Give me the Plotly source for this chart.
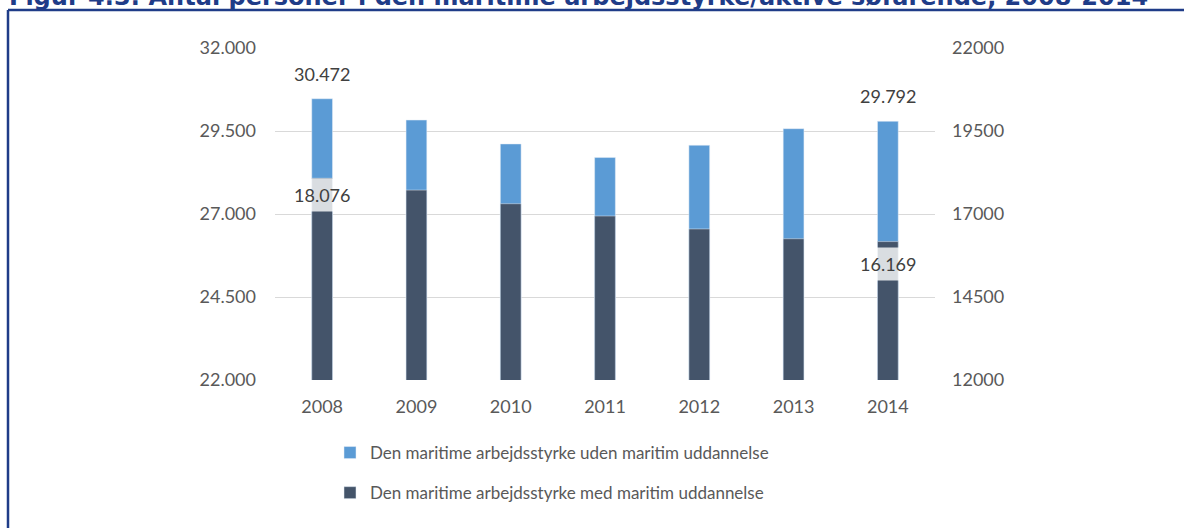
import plotly.graph_objects as go

years = ["2008", "2009", "2010", "2011", "2012", "2013", "2014"]
total_workforce = [30472, 29830, 29110, 28700, 29070, 29570, 29792]
with_maritime_edu = [18076, 17720, 17310, 16940, 16550, 16255, 16169]
left_ticks = [22000, 24500, 27000, 29500, 32000]
right_ticks = [12000, 14500, 17000, 19500, 22000]
name_without = "Den maritime arbejdsstyrke uden maritim uddannelse"
name_with = "Den maritime arbejdsstyrke med maritim uddannelse"
title_text = "Figur 4.3: Antal personer i den maritime arbejdsstyrke/aktive søfarende, 2008-2014"

LIGHT = "#5B9BD5"
DARK = "#44546A"
NAVY = "#1F3C88"
TXT = "#595959"
FONT = "Lato"

W, H = 1184, 528
L, R, T, B = 275, 249, 48, 148
PW, PH = W - L - R, H - T - B


def px_x(p):
    return (p - L) / PW


def px_y(p):
    return (H - B - p) / PH


def fmt(v):
    return f"{v:,}".replace(",", ".")


fig = go.Figure()
fig.add_trace(go.Bar(x=years, y=total_workforce, name=name_without, marker_color=LIGHT,
                     width=0.22, yaxis="y", legendgroup="a"))
fig.add_trace(go.Bar(x=years, y=with_maritime_edu, name=name_with, marker_color=DARK,
                     width=0.22, yaxis="y2", legendgroup="b"))

annotations = []
for i in (0, len(years) - 1):
    annotations.append(dict(x=i, y=total_workforce[i], xref="x", yref="y",
                            text=fmt(total_workforce[i]), showarrow=False,
                            yanchor="bottom", yshift=12,
                            font=dict(family=FONT, size=18, color="#404040")))
for i, shift in ((0, 0), (len(years) - 1, -5)):
    annotations.append(dict(x=i, y=with_maritime_edu[i], xref="x", yref="y2",
                            text=fmt(with_maritime_edu[i]), showarrow=False,
                            yanchor="top", yshift=shift, bgcolor="rgba(255,255,255,0.8)",
                            borderpad=5,
                            font=dict(family=FONT, size=18, color="#404040")))
annotations.append(dict(x=px_x(7), y=px_y(13), xref="paper", yref="paper", xanchor="left",
                        yanchor="bottom", showarrow=False, text="<b>" + title_text + "</b>",
                        font=dict(family="DejaVu Sans", size=24, color=NAVY)))

shapes = [
    dict(type="line", xref="paper", yref="paper", x0=px_x(8), x1=px_x(8),
         y0=px_y(540), y1=px_y(10), line=dict(color=NAVY, width=2.5)),
    dict(type="line", xref="paper", yref="paper", x0=px_x(8), x1=px_x(1200),
         y0=px_y(10), y1=px_y(10), line=dict(color=NAVY, width=2.5)),
]

fig.update_layout(
    width=W, height=H,
    margin=dict(l=L, r=R, t=T, b=B, autoexpand=False),
    paper_bgcolor="white", plot_bgcolor="white",
    barmode="overlay",
    separators=",.",
    font=dict(family=FONT, size=18, color=TXT),
    xaxis=dict(type="category", range=[-0.5, len(years) - 0.5], autorange=False,
               showgrid=False, showline=False, ticks="outside", ticklen=10,
               tickcolor="rgba(0,0,0,0)", tickfont=dict(size=18, color=TXT)),
    yaxis=dict(range=[22000, 32000], autorange=False, tickvals=left_ticks, tickformat=",d",
               showgrid=True, gridcolor="#D9D9D9", gridwidth=1, zeroline=False,
               tickfont=dict(size=18, color=TXT), ticklabelstandoff=18),
    yaxis2=dict(range=[12000, 22000], autorange=False, tickvals=right_ticks, tickformat="d",
                overlaying="y", side="right", showgrid=False, zeroline=False,
                tickfont=dict(size=18, color=TXT), ticklabelstandoff=16),
    legend=dict(orientation="v", x=px_x(330), y=px_y(435), xanchor="left", yanchor="top",
                traceorder="grouped", tracegroupgap=15, itemwidth=30,
                font=dict(family=FONT, size=17, color=TXT), bgcolor="rgba(0,0,0,0)"),
    annotations=annotations,
    shapes=shapes,
)

fig.write_html("out.html", config={"displayModeBar": False},
               post_script="document.body.style.margin='0px';")
